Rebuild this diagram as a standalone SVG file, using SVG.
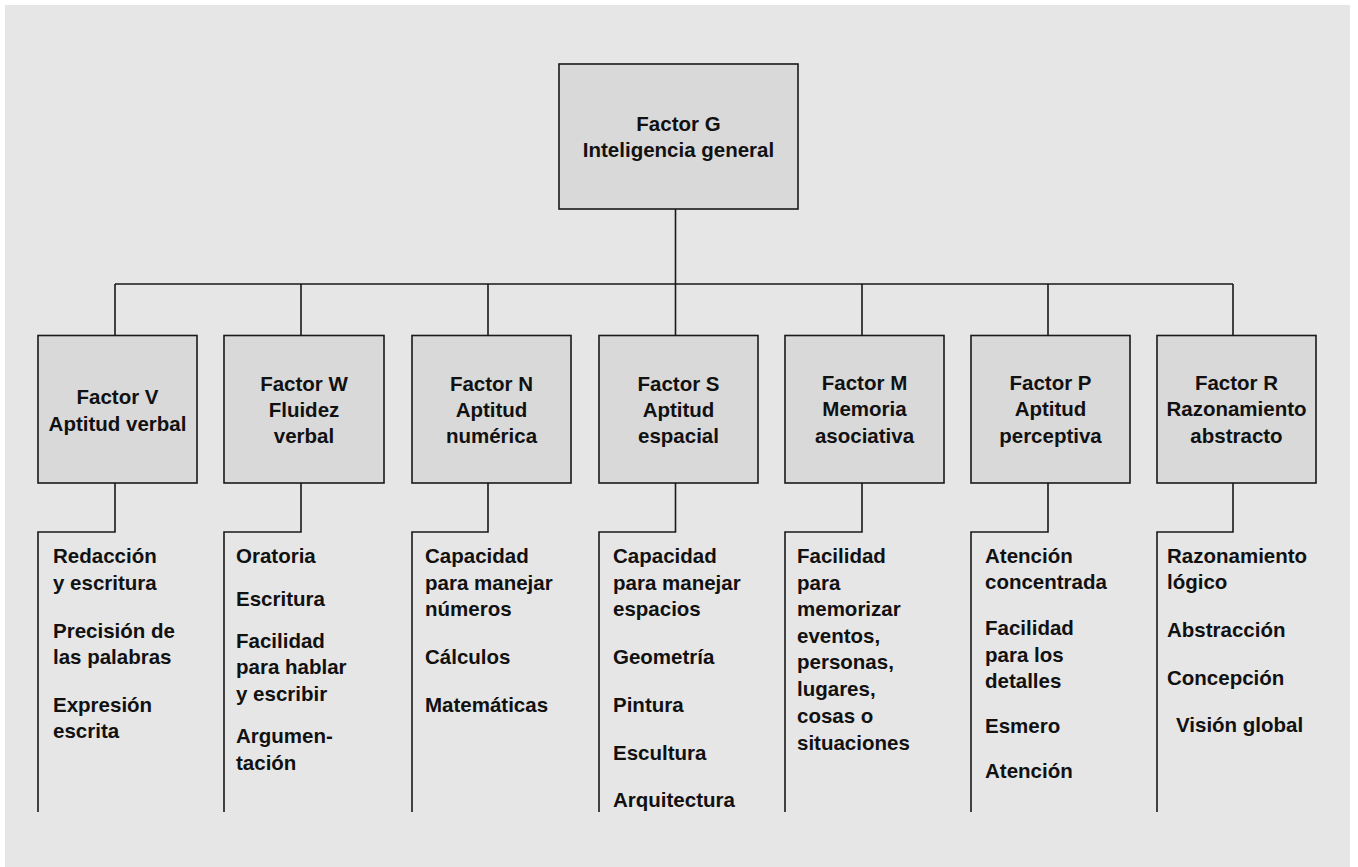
<svg xmlns="http://www.w3.org/2000/svg" width="1358" height="867" viewBox="0 0 1358 867">
<style>
.bg{fill:#e6e6e6}
.box{fill:#d9d9d9;stroke:#1a1a1a;stroke-width:1.6}
.ln{fill:none;stroke:#1a1a1a;stroke-width:1.6}
text{font-family:"Liberation Sans",Arial,Helvetica,sans-serif;font-weight:bold;font-size:20.5px;fill:#111}
.c{text-anchor:middle}
</style>
<rect class="bg" x="5" y="5" width="1345" height="862"/>
<g id="connectors">
<path class="ln" d="M675.5 209V284M115 284H1233"/>
<path class="ln" d="M115 284V335.5M301 284V335.5M488 284V335.5M675.5 284V335.5M862 284V335.5M1048 284V335.5M1233 284V335.5"/>
<path class="ln" d="M115 483V532H38V812"/>
<path class="ln" d="M301 483V532H224V812"/>
<path class="ln" d="M488 483V532H412V812"/>
<path class="ln" d="M675.5 483V532H599V812"/>
<path class="ln" d="M862 483V532H785V812"/>
<path class="ln" d="M1048 483V532H971V812"/>
<path class="ln" d="M1233 483V532H1157V812"/>
</g>
<g id="factorG">
<rect class="box" x="559" y="64" width="239" height="145"/>
<text class="c" x="678.5" y="131">Factor G</text>
<text class="c" x="678.5" y="157">Inteligencia general</text>
</g>
<g id="factorV">
<rect class="box" x="38" y="335.5" width="159" height="147.5"/>
<text class="c" x="117.5" y="404">Factor V</text>
<text class="c" x="117.5" y="431">Aptitud verbal</text>
</g>
<g id="factorW">
<rect class="box" x="224" y="335.5" width="160" height="147.5"/>
<text class="c" x="304" y="391">Factor W</text>
<text class="c" x="304" y="417">Fluidez</text>
<text class="c" x="304" y="443">verbal</text>
</g>
<g id="factorN">
<rect class="box" x="412" y="335.5" width="159" height="147.5"/>
<text class="c" x="491.5" y="391">Factor N</text>
<text class="c" x="491.5" y="417">Aptitud</text>
<text class="c" x="491.5" y="443">numérica</text>
</g>
<g id="factorS">
<rect class="box" x="599" y="335.5" width="159" height="147.5"/>
<text class="c" x="678.5" y="391">Factor S</text>
<text class="c" x="678.5" y="417">Aptitud</text>
<text class="c" x="678.5" y="443">espacial</text>
</g>
<g id="factorM">
<rect class="box" x="785" y="335.5" width="159" height="147.5"/>
<text class="c" x="864.5" y="390">Factor M</text>
<text class="c" x="864.5" y="416">Memoria</text>
<text class="c" x="864.5" y="442.5">asociativa</text>
</g>
<g id="factorP">
<rect class="box" x="971" y="335.5" width="159" height="147.5"/>
<text class="c" x="1050.5" y="390">Factor P</text>
<text class="c" x="1050.5" y="416">Aptitud</text>
<text class="c" x="1050.5" y="442.5">perceptiva</text>
</g>
<g id="factorR">
<rect class="box" x="1157" y="335.5" width="159" height="147.5"/>
<text class="c" x="1236.5" y="390">Factor R</text>
<text class="c" x="1236.5" y="416">Razonamiento</text>
<text class="c" x="1236.5" y="442.5">abstracto</text>
</g>
<g id="listV">
<text x="53" y="563">Redacción</text>
<text x="53" y="590">y escritura</text>
<text x="53" y="638">Precisión de</text>
<text x="53" y="664">las palabras</text>
<text x="53" y="712">Expresión</text>
<text x="53" y="738">escrita</text>
</g>
<g id="listW">
<text x="236" y="563">Oratoria</text>
<text x="236" y="606">Escritura</text>
<text x="236" y="648">Facilidad</text>
<text x="236" y="674">para hablar</text>
<text x="236" y="701">y escribir</text>
<text x="236" y="743">Argumen-</text>
<text x="236" y="770">tación</text>
</g>
<g id="listN">
<text x="425" y="563">Capacidad</text>
<text x="425" y="590">para manejar</text>
<text x="425" y="616">números</text>
<text x="425" y="664">Cálculos</text>
<text x="425" y="712">Matemáticas</text>
</g>
<g id="listS">
<text x="613" y="563">Capacidad</text>
<text x="613" y="590">para manejar</text>
<text x="613" y="616">espacios</text>
<text x="613" y="664">Geometría</text>
<text x="613" y="712">Pintura</text>
<text x="613" y="760">Escultura</text>
<text x="613" y="807">Arquitectura</text>
</g>
<g id="listM">
<text x="797" y="563">Facilidad</text>
<text x="797" y="590">para</text>
<text x="797" y="616">memorizar</text>
<text x="797" y="643">eventos,</text>
<text x="797" y="669">personas,</text>
<text x="797" y="696">lugares,</text>
<text x="797" y="723">cosas o</text>
<text x="797" y="750">situaciones</text>
</g>
<g id="listP">
<text x="985" y="563">Atención</text>
<text x="985" y="589">concentrada</text>
<text x="985" y="635">Facilidad</text>
<text x="985" y="662">para los</text>
<text x="985" y="688">detalles</text>
<text x="985" y="733">Esmero</text>
<text x="985" y="778">Atención</text>
</g>
<g id="listR">
<text x="1167" y="563">Razonamiento</text>
<text x="1167" y="589">lógico</text>
<text x="1167" y="637">Abstracción</text>
<text x="1167" y="685">Concepción</text>
<text x="1176" y="732">Visión global</text>
</g>
</svg>
